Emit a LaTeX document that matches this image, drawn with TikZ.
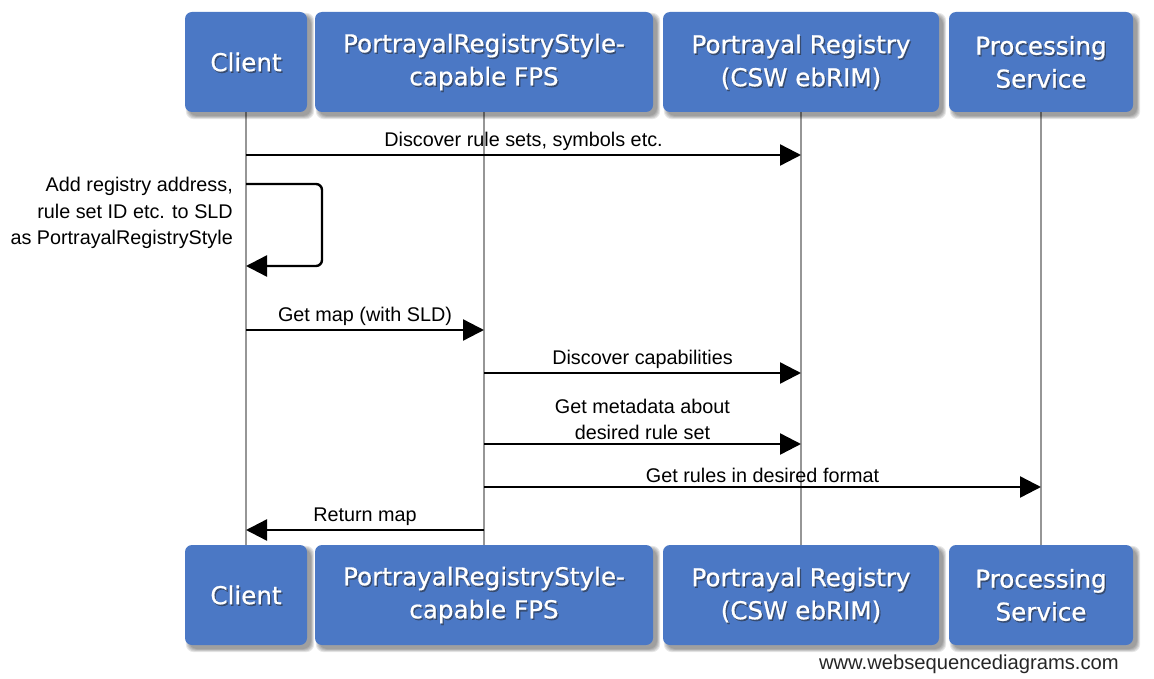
\documentclass[tikz,border=0pt]{standalone}
\usepackage{fontspec}
\setmainfont{Liberation Sans}
\newfontfamily\boxfont[FakeBold=0.7]{DejaVu Sans}
\usetikzlibrary{arrows.meta}

\definecolor{actorblue}{RGB}{75,120,197}
\definecolor{lifegray}{RGB}{150,150,150}

\tikzset{
  actorbox/.style={rectangle, rounded corners=7pt, fill=actorblue, draw=none,
    minimum height=100pt, inner sep=0pt},
  actortext/.style={font=\boxfont\fontsize{24.6}{33}\selectfont, align=center, inner sep=0pt},
  lifeline/.style={draw=lifegray, line width=1.8pt},
  msg/.style={draw=black, line width=2.4pt,
    -{Triangle[length=21pt, width=21pt]}},
  msgfont/.style={font=\fontsize{19.8}{26.5}\selectfont},
  lbl/.style={above, inner sep=3pt, msgfont, align=center},
}

% actor box: name, centre x, centre y, width, text
\newcommand\actorbox[5]{%
  \foreach \k in {0,...,4}
    \fill[black, opacity=0.09, rounded corners=8pt]
      (#2-#4/2+4-\k*0.8, #3-50+4-\k*0.8) rectangle (#2+#4/2+4+\k*0.8, #3+50+4+\k*0.8);
  \node[actorbox, minimum width=#4] (#1) at (#2,#3) {};
  \node[actortext, text=black!85, opacity=.5] (#1s) at (#2+1.3,#3+1.6) {#5};
  \node[actortext, text=white] (#1t) at (#2,#3) {#5};
}

\begin{document}
\begin{tikzpicture}[x=1pt, y=-1pt]
  \useasboundingbox (0,0) rectangle (1154,679);

  % lifelines
  \coordinate (cTop) at (246,112); \coordinate (cBot) at (246,545);
  \coordinate (fTop) at (484,112); \coordinate (fBot) at (484,545);
  \coordinate (rTop) at (801,112); \coordinate (rBot) at (801,545);
  \coordinate (pTop) at (1041,112); \coordinate (pBot) at (1041,545);
  \draw[lifeline] (cTop) -- (cBot);
  \draw[lifeline] (fTop) -- (fBot);
  \draw[lifeline] (rTop) -- (rBot);
  \draw[lifeline] (pTop) -- (pBot);

  % participants, top row
  \actorbox{client}{246}{62}{122}{Client}
  \actorbox{fps}{484}{62}{338}{PortrayalRegistryStyle-\\capable FPS}
  \actorbox{reg}{801}{62}{276}{Portrayal Registry\\(CSW ebRIM)}
  \actorbox{proc}{1041}{62}{184}{Processing\\Service}

  % participants, bottom row
  \actorbox{clientB}{246}{595}{122}{Client}
  \actorbox{fpsB}{484}{595}{338}{PortrayalRegistryStyle-\\capable FPS}
  \actorbox{regB}{801}{595}{276}{Portrayal Registry\\(CSW ebRIM)}
  \actorbox{procB}{1041}{595}{184}{Processing\\Service}

  % messages
  \coordinate (c1) at (246,155); \coordinate (r1) at (801,155);
  \draw[msg] (c1) -- node[lbl] {Discover rule sets, symbols etc.} (r1);

  \coordinate (s1) at (246,184); \coordinate (s2) at (246,266);
  \draw[msg, rounded corners=6pt] (s1) -- ++(76,0) |- (s2);
  \node[anchor=east, align=right, inner sep=0pt, msgfont]
    (selfnote) at (233,213) {Add registry address,\\rule set ID etc. to SLD\\as PortrayalRegistryStyle};

  \coordinate (c2) at (246,330); \coordinate (f2) at (484,330);
  \draw[msg] (c2) -- node[lbl] {Get map (with SLD)} (f2);

  \coordinate (f3) at (484,373); \coordinate (r3) at (801,373);
  \draw[msg] (f3) -- node[lbl] {Discover capabilities} (r3);

  \coordinate (f4) at (484,444); \coordinate (r4) at (801,444);
  \draw[msg] (f4) -- node[lbl] {Get metadata about\\desired rule set} (r4);

  \coordinate (f5) at (484,487); \coordinate (p5) at (1041,487);
  \draw[msg] (f5) -- node[lbl] {Get rules in desired format} (p5);

  \coordinate (f6) at (484,530); \coordinate (c6) at (246,530);
  \draw[msg] (f6) -- node[lbl] {Return map} (c6);

  % footer
  \node[anchor=east, inner sep=0pt, font=\fontsize{20.2}{22}\selectfont, text=black!85]
    (footer) at (1119,664) {www.websequencediagrams.com};
\end{tikzpicture}
\end{document}
